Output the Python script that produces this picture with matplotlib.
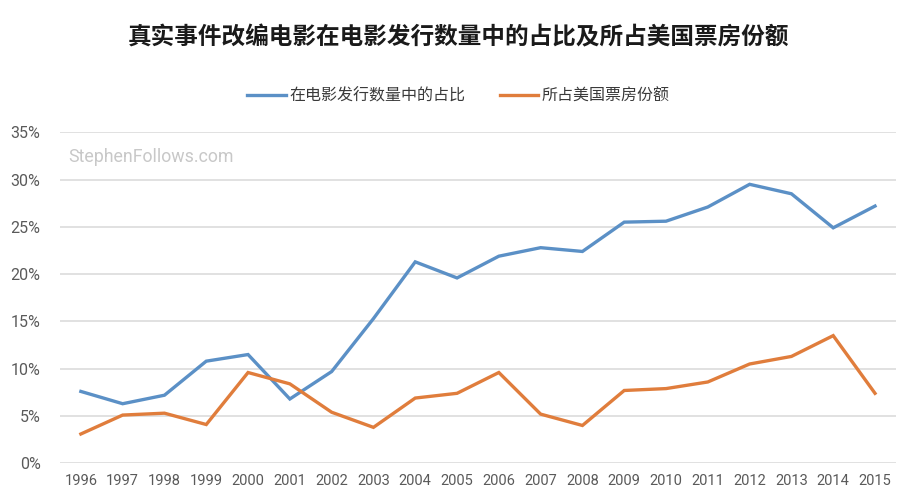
import matplotlib as mpl
mpl.use('Agg')
import matplotlib.pyplot as plt
from matplotlib.ticker import FuncFormatter

plt.rcParams['font.family'] = ['Noto Sans CJK SC', 'DejaVu Sans']

years = list(range(1996, 2016))
share_count = [7.6, 6.3, 7.2, 10.8, 11.5, 6.8, 9.7, 15.3, 21.3, 19.6,
               21.9, 22.8, 22.4, 25.5, 25.6, 27.1, 29.5, 28.5, 24.9, 27.2]
share_box = [3.1, 5.1, 5.3, 4.1, 9.6, 8.4, 5.4, 3.8, 6.9, 7.4,
             9.6, 5.2, 4.0, 7.7, 7.9, 8.6, 10.5, 11.3, 13.5, 7.4]
label_count = '在电影发行数量中的占比'
label_box = '所占美国票房份额'
title = '真实事件改编电影在电影发行数量中的占比及所占美国票房份额'

fig = plt.figure(figsize=(9.17, 5.0), dpi=100)
ax = fig.add_axes([0.0654, 0.0734, 0.9116, 0.662])

lw = 2.4
ax.plot(years, share_count, color='#5b90c6', lw=lw, label=label_count,
        solid_joinstyle='miter')
ax.plot(years, share_box, color='#e07d3c', lw=lw, label=label_box,
        solid_joinstyle='miter')

ax.set_xlim(1995.5, 2015.5)
ax.set_ylim(0, 35)
ax.set_yticks(range(0, 36, 5))
ax.set_xticks(years)
ax.yaxis.set_major_formatter(FuncFormatter(lambda v, p: '{:d}%'.format(int(v))))
ax.grid(axis='y', color='#dedede', lw=1.3)
ax.set_axisbelow(True)
for s in ax.spines.values():
    s.set_visible(False)
ax.tick_params(length=0)
ax.tick_params(axis='y', pad=14, labelsize=11.5, labelcolor='#5a5a5a')
ax.tick_params(axis='x', pad=8, labelsize=10.5, labelcolor='#5a5a5a')
for t in ax.get_xticklabels() + ax.get_yticklabels():
    t.set_family(['Roboto', 'DejaVu Sans'])

ax.text(0.01, 0.925, 'StephenFollows.com', transform=ax.transAxes,
        fontsize=12.8, color='#c8c8c8', family=['Roboto', 'DejaVu Sans'],
        va='center', ha='left')

fig.text(0.5, 0.925, title, ha='center', va='center', fontsize=17,
         fontweight='bold', color='#1a1a1a')

fig.legend(loc='center', bbox_to_anchor=(0.5, 0.808), ncol=2, frameon=False,
           fontsize=11.5, handlelength=2.4, handletextpad=0.2,
           columnspacing=2.2, labelcolor='#3a3a3a')

fig.savefig('out.png', dpi=100)
